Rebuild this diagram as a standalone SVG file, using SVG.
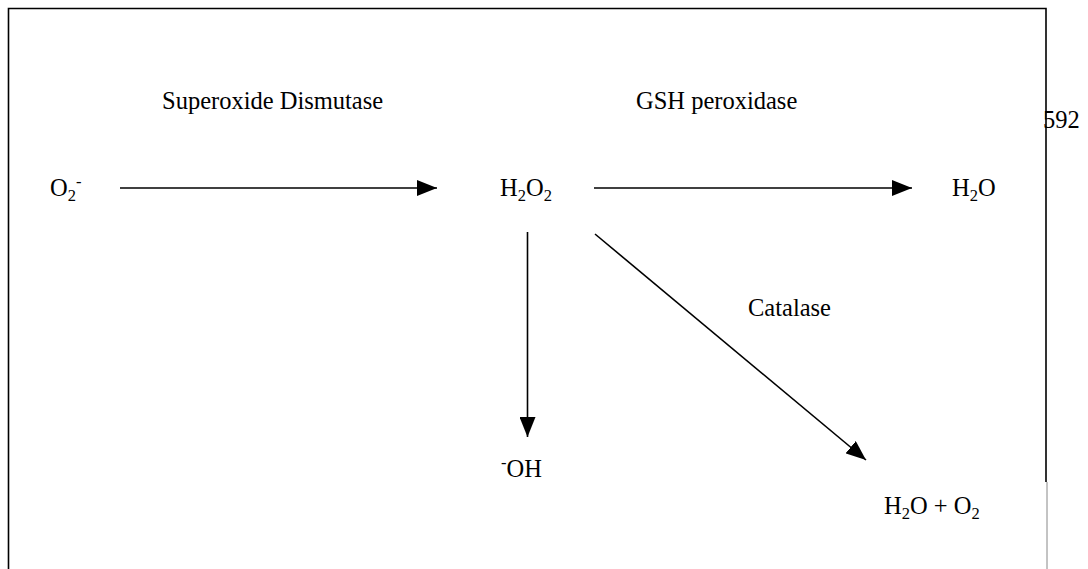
<svg xmlns="http://www.w3.org/2000/svg" width="1088" height="569" viewBox="0 0 1088 569">
<style>
text{font-family:"Liberation Serif","Times New Roman",serif;font-size:24.5px;fill:#000}
.sub{font-size:16.5px}
.conn{stroke:#000;stroke-width:1.6;fill:none}
</style>
<defs>
<marker id="ah" markerUnits="userSpaceOnUse" markerWidth="22" markerHeight="16" refX="20" refY="8" orient="auto">
<path d="M0,0 L20,8 L0,16 Z" fill="#000"/>
</marker>
</defs>
<rect width="1088" height="569" fill="#fff"/>
<g id="frame">
<path d="M8.5,569 V8.5 H1046 V482" stroke="#000" stroke-width="1.6" fill="none"/>
<line x1="1047" y1="482" x2="1047" y2="569" stroke="#888" stroke-width="1"/>
</g>
<text x="1043" y="128" font-size="26">592</text>
<g id="connectors">
<line class="conn" x1="120" y1="188" x2="437" y2="188" marker-end="url(#ah)"/>
<line class="conn" x1="594" y1="188" x2="912" y2="188" marker-end="url(#ah)"/>
<line class="conn" x1="527.5" y1="232" x2="527.5" y2="437" marker-end="url(#ah)"/>
<line class="conn" x1="595" y1="234" x2="866" y2="460" marker-end="url(#ah)"/>
</g>
<g id="label-sod"><text x="162" y="109">Superoxide Dismutase</text></g>
<g id="label-gsh"><text x="636" y="109">GSH peroxidase</text></g>
<g id="label-catalase"><text x="748" y="316">Catalase</text></g>
<g id="node-o2"><text x="50" y="196">O<tspan class="sub" dy="5">2</tspan><tspan class="sub" dy="-14">-</tspan></text></g>
<g id="node-h2o2"><text x="500" y="196">H<tspan class="sub" dy="5">2</tspan><tspan dy="-5">O</tspan><tspan class="sub" dy="5">2</tspan></text></g>
<g id="node-h2o"><text x="952" y="196">H<tspan class="sub" dy="5">2</tspan><tspan dy="-5">O</tspan></text></g>
<g id="node-oh"><text x="501" y="477"><tspan class="sub" dy="-9">-</tspan><tspan dy="9">OH</tspan></text></g>
<g id="node-h2o-o2"><text x="884" y="514">H<tspan class="sub" dy="5">2</tspan><tspan dy="-5">O + O</tspan><tspan class="sub" dy="5">2</tspan></text></g>
</svg>
